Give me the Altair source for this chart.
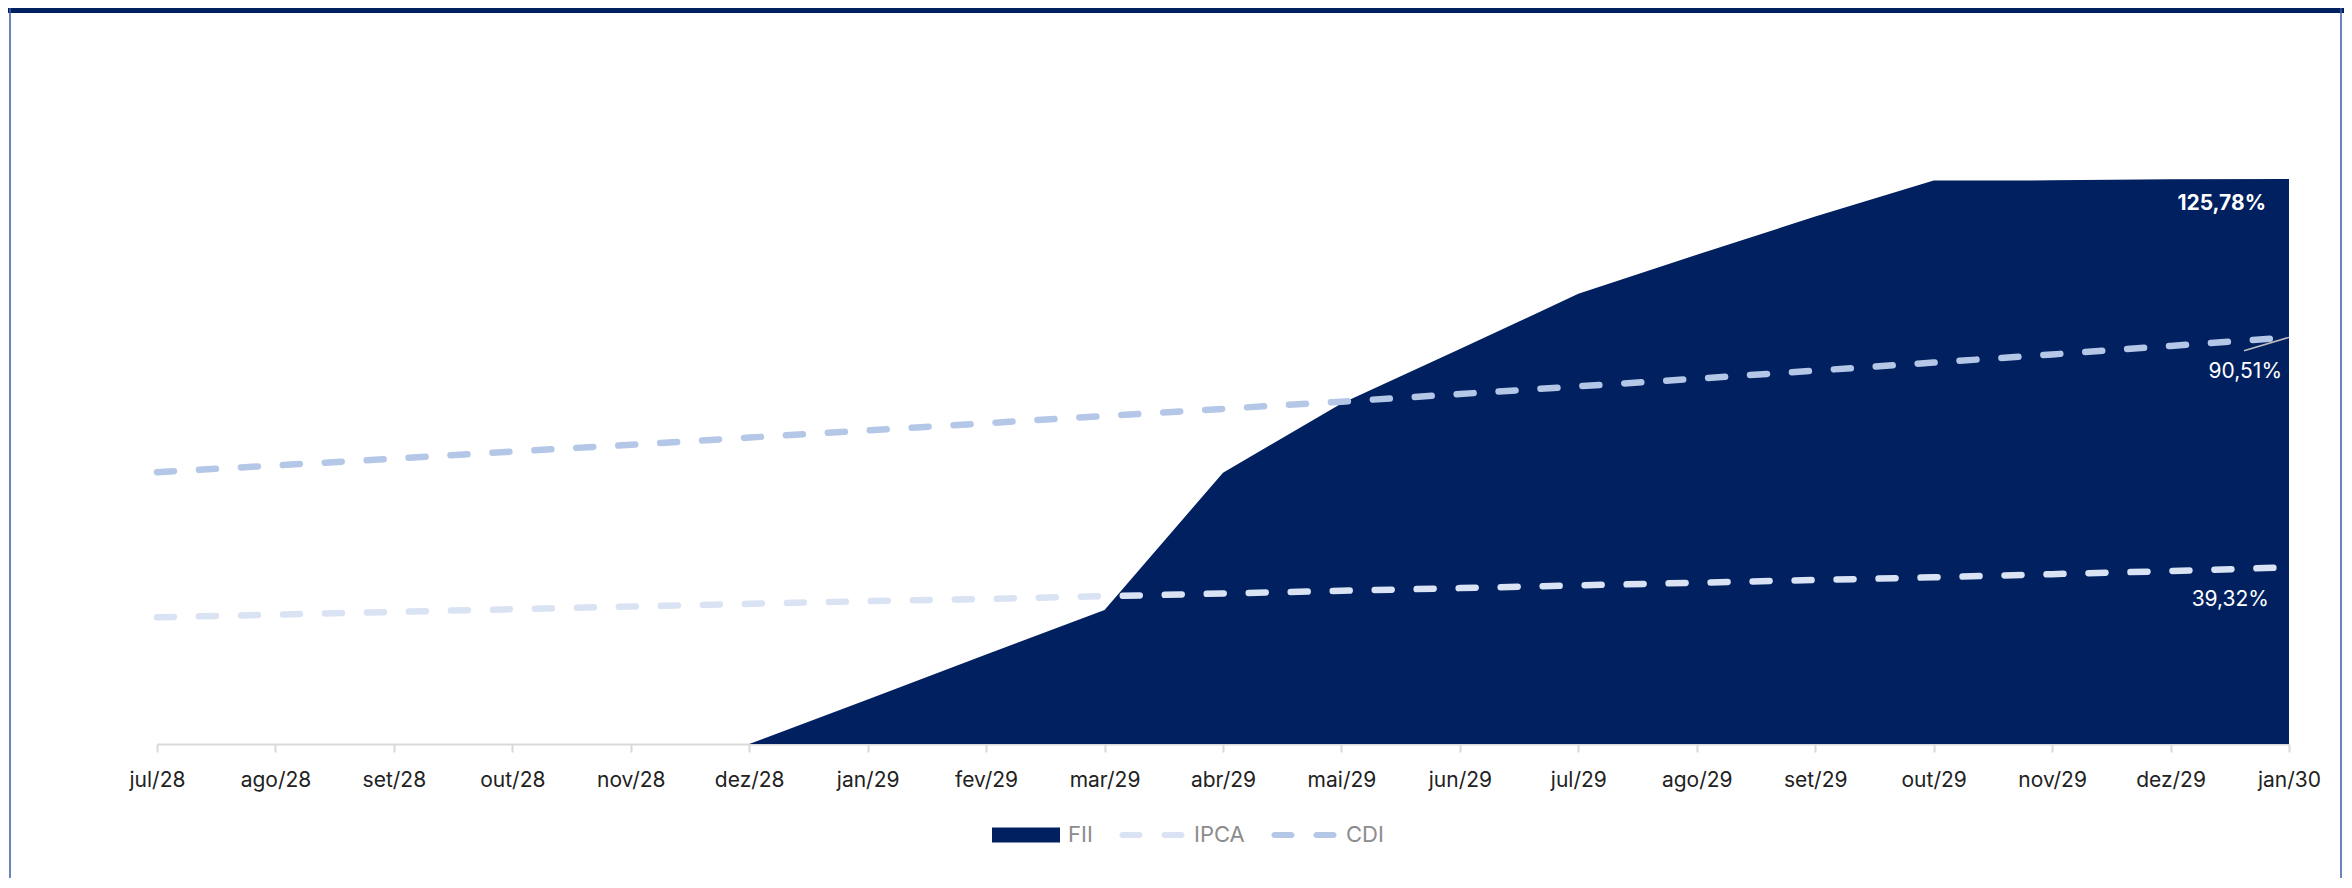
import altair as alt
import pandas as pd

# ---- data ----
months = ["jul/28", "ago/28", "set/28", "out/28", "nov/28", "dez/28",
          "jan/29", "fev/29", "mar/29", "abr/29", "mai/29", "jun/29",
          "jul/29", "ago/29", "set/29", "out/29", "nov/29", "dez/29", "jan/30"]
fii = [0, 0, 0, 0, 0, 0, 9.9, 19.9, 29.8, 60.4, 75.8, 87.9, 100.2, 108.9,
       117.4, 125.4, 125.45, 125.7, 125.78]
ipca = [28.2, 28.8, 29.4, 30.0, 30.6, 31.2, 31.8, 32.3, 32.9, 33.5, 34.1,
        34.7, 35.3, 35.9, 36.5, 37.1, 37.8, 38.5, 39.32]
cdi = [60.5, 62.0, 63.5, 65.1, 66.6, 68.2, 69.8, 71.4, 73.0, 74.6, 76.2,
       77.9, 79.6, 81.3, 83.1, 84.9, 86.7, 88.6, 90.51]
series = ["FII", "IPCA", "CDI"]
colors = ["#002060", "#DAE3F3", "#B4C7E7"]
end_labels = ["125,78%", "90,51%", "39,32%"]

idx = list(range(len(months)))
rows = []
for name, vals in zip(series, [fii, ipca, cdi]):
    for i, v in zip(idx, vals):
        rows.append({"idx": i, "mes": months[i], "serie": name, "valor": v})
df = pd.DataFrame(rows)

FONT = "Inter"
W, H = 2132, 629

label_expr = "[" + ",".join("'%s'" % m for m in months) + "][datum.value]"
x_scale = alt.Scale(domain=[0, len(months) - 1], nice=False, zero=False)
y_scale = alt.Scale(domain=[0, 140], nice=False)
color_scale = alt.Scale(domain=series, range=colors)

x_axis = alt.Axis(values=idx, labelExpr=label_expr, title=None, grid=False,
                  domainColor="#D9D9D9", domainWidth=2, tickColor="#D9D9D9",
                  tickWidth=2, tickSize=8, labelFontSize=21, labelColor="#222222",
                  labelFont=FONT, labelPadding=17, labelFlush=False,
                  labelOverlap=False)
X = alt.X("idx:Q", scale=x_scale, axis=x_axis)
Y = alt.Y("valor:Q", scale=y_scale, axis=None)

area = alt.Chart(df[df.serie == "FII"]).mark_area(
    opacity=1, interpolate="linear", color=colors[0]
).encode(x=X, y=Y)

line_layers = []
for name, col in zip(series[1:], colors[1:]):
    line_layers.append(
        alt.Chart(df[df.serie == name]).mark_line(
            strokeDash=[17, 25], strokeWidth=6.5, strokeCap="round", color=col
        ).encode(x=X, y=Y)
    )

last = idx[-1]
end_vals = [fii[-1], cdi[-1], ipca[-1]]
text_specs = [  # (dx, dy, weight)
    (-23, 25, "bold"),
    (-7, 35, "normal"),
    (-20, 33, "normal"),
]
texts = []
for lab, val, (dx, dy, wt) in zip(end_labels, end_vals, text_specs):
    t = alt.Chart(pd.DataFrame({"idx": [last], "valor": [val], "t": [lab]})).mark_text(
        align="right", baseline="middle", dx=dx, dy=dy, fontSize=21,
        font=FONT, color="white", fontWeight=wt
    ).encode(x=X, y=Y, text="t:N")
    texts.append(t)

# leader line for CDI label
leader = alt.Chart(pd.DataFrame({"idx": [last - 0.38], "valor": [cdi[-1] - 3.0],
                                 "x2": [last], "y2": [cdi[-1]]})).mark_rule(
    color="#BFBFBF", strokeWidth=1.5
).encode(x=X, y=Y, x2="x2:Q", y2="y2:Q")

# legend (custom symbols via shape scale)
rect_path = "M-1,-0.22H1V0.22H-1Z"
dash_path = ("M-0.868,-0.09H-0.368A0.09,0.09 0 0 1 -0.368,0.09H-0.868"
             "A0.09,0.09 0 0 1 -0.868,-0.09Z"
             "M0.368,-0.09H0.868A0.09,0.09 0 0 1 0.868,0.09H0.368"
             "A0.09,0.09 0 0 1 0.368,-0.09Z")
leg = dict(orient="none", legendX=835, legendY=686, direction="horizontal",
           title=None, labelFont=FONT, labelFontSize=22, labelColor="#8C8C8C",
           labelOffset=8, columnPadding=25, symbolSize=4624,
           symbolStrokeWidth=0, padding=0, symbolOpacity=1)
legend_layer = alt.Chart(df).transform_filter("false").mark_point(
    filled=True, size=4624, opacity=1
).encode(
    x=X, y=Y,
    color=alt.Color("serie:N", scale=color_scale, legend=alt.Legend(**leg)),
    shape=alt.Shape("serie:N", scale=alt.Scale(domain=series,
                    range=[rect_path, dash_path, dash_path]),
                    legend=alt.Legend(**leg)),
)

# frame
one = pd.DataFrame({"k": [0]})
top_band = alt.Chart(one).mark_rect(color="#002060").encode(
    x=alt.value(-149), x2=alt.value(2187), y=alt.value(-107), y2=alt.value(-102))
left_border = alt.Chart(one).mark_rule(color="#3B5BA5", strokeWidth=1.5).encode(
    x=alt.value(-147), y=alt.value(-107), y2=alt.value(775))
right_border = alt.Chart(one).mark_rule(color="#3B5BA5", strokeWidth=1.5).encode(
    x=alt.value(2184), y=alt.value(-107), y2=alt.value(775))

chart = alt.layer(area, *line_layers, *texts, leader, legend_layer,
                  top_band, left_border, right_border).properties(
    width=W, height=H,
    autosize=alt.AutoSizeParams(type="none"),
    padding={"left": 149, "top": 107, "right": 55, "bottom": 134},
    background="white",
).configure_view(stroke=None)

chart.save("out.html", embed_options={"renderer": "svg", "actions": False})
